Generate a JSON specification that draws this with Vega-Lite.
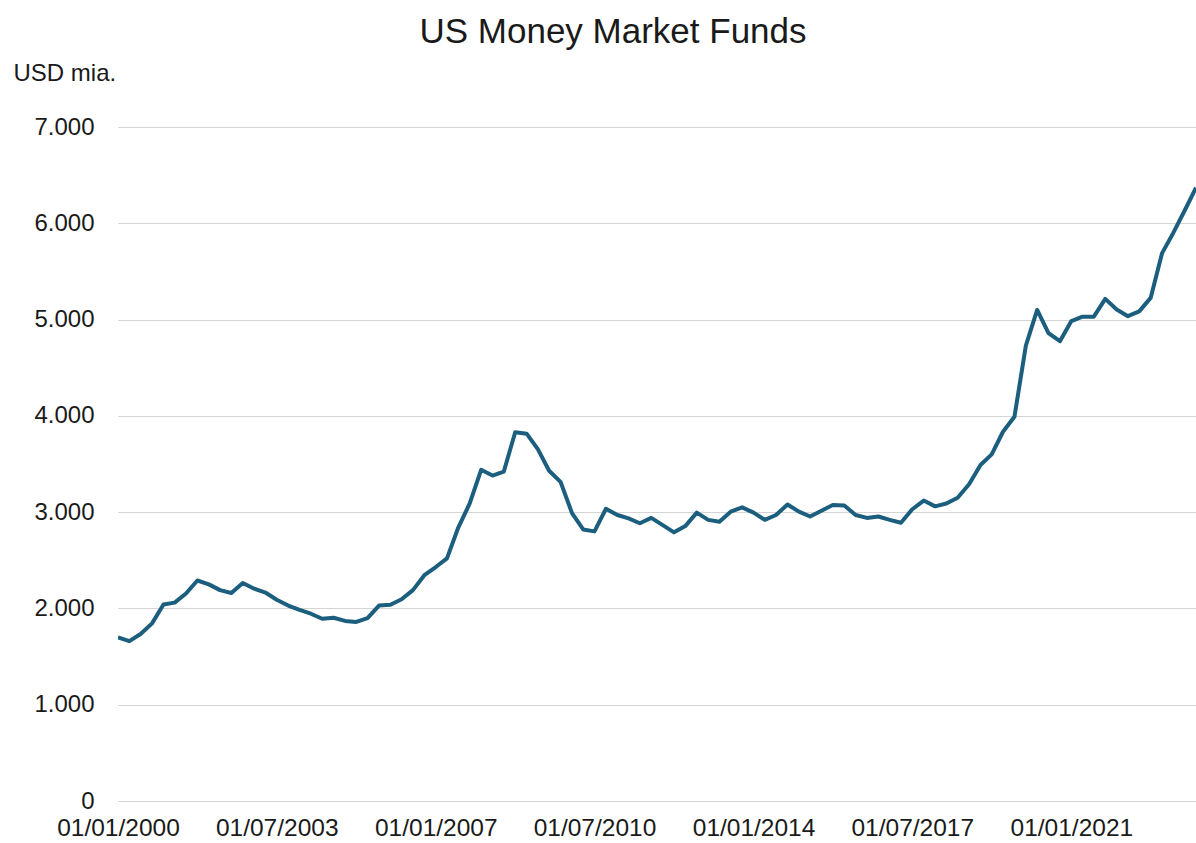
{
  "$schema": "https://vega.github.io/schema/vega-lite/v6.json",
  "autosize": {"type": "none"},
  "width": 1078,
  "height": 674,
  "padding": {"left": 118, "top": 127, "right": 0, "bottom": 42},
  "background": "white",
  "title": {
    "text": "US Money Market Funds",
    "fontSize": 35,
    "font": "Liberation Sans",
    "fontWeight": "normal",
    "color": "#1a1a1a",
    "anchor": "middle",
    "dx": -44,
    "dy": -7
  },
  "data": {
    "values": [
      {"date": "2000-01-01", "value": 1700}, {"date": "2000-04-01", "value": 1660}, {"date": "2000-07-01", "value": 1735}, {"date": "2000-10-01", "value": 1845},
      {"date": "2001-01-01", "value": 2040}, {"date": "2001-04-01", "value": 2060}, {"date": "2001-07-01", "value": 2155}, {"date": "2001-10-01", "value": 2290},
      {"date": "2002-01-01", "value": 2250}, {"date": "2002-04-01", "value": 2190}, {"date": "2002-07-01", "value": 2160}, {"date": "2002-10-01", "value": 2265},
      {"date": "2003-01-01", "value": 2205}, {"date": "2003-04-01", "value": 2165}, {"date": "2003-07-01", "value": 2090}, {"date": "2003-10-01", "value": 2030},
      {"date": "2004-01-01", "value": 1985}, {"date": "2004-04-01", "value": 1945}, {"date": "2004-07-01", "value": 1893}, {"date": "2004-10-01", "value": 1903},
      {"date": "2005-01-01", "value": 1870}, {"date": "2005-04-01", "value": 1860}, {"date": "2005-07-01", "value": 1900}, {"date": "2005-10-01", "value": 2030},
      {"date": "2006-01-01", "value": 2038}, {"date": "2006-04-01", "value": 2095}, {"date": "2006-07-01", "value": 2190}, {"date": "2006-10-01", "value": 2345},
      {"date": "2007-01-01", "value": 2430}, {"date": "2007-04-01", "value": 2520}, {"date": "2007-07-01", "value": 2840}, {"date": "2007-10-01", "value": 3090},
      {"date": "2008-01-01", "value": 3440}, {"date": "2008-04-01", "value": 3380}, {"date": "2008-07-01", "value": 3420}, {"date": "2008-10-01", "value": 3830},
      {"date": "2009-01-01", "value": 3815}, {"date": "2009-04-01", "value": 3655}, {"date": "2009-07-01", "value": 3430}, {"date": "2009-10-01", "value": 3315},
      {"date": "2010-01-01", "value": 2990}, {"date": "2010-04-01", "value": 2820}, {"date": "2010-07-01", "value": 2800}, {"date": "2010-10-01", "value": 3035},
      {"date": "2011-01-01", "value": 2970}, {"date": "2011-04-01", "value": 2935}, {"date": "2011-07-01", "value": 2885}, {"date": "2011-10-01", "value": 2940},
      {"date": "2012-01-01", "value": 2865}, {"date": "2012-04-01", "value": 2790}, {"date": "2012-07-01", "value": 2855}, {"date": "2012-10-01", "value": 2995},
      {"date": "2013-01-01", "value": 2920}, {"date": "2013-04-01", "value": 2900}, {"date": "2013-07-01", "value": 3005}, {"date": "2013-10-01", "value": 3050},
      {"date": "2014-01-01", "value": 2995}, {"date": "2014-04-01", "value": 2920}, {"date": "2014-07-01", "value": 2970}, {"date": "2014-10-01", "value": 3080},
      {"date": "2015-01-01", "value": 3005}, {"date": "2015-04-01", "value": 2955}, {"date": "2015-07-01", "value": 3015}, {"date": "2015-10-01", "value": 3075},
      {"date": "2016-01-01", "value": 3070}, {"date": "2016-04-01", "value": 2970}, {"date": "2016-07-01", "value": 2940}, {"date": "2016-10-01", "value": 2955},
      {"date": "2017-01-01", "value": 2920}, {"date": "2017-04-01", "value": 2890}, {"date": "2017-07-01", "value": 3030}, {"date": "2017-10-01", "value": 3120},
      {"date": "2018-01-01", "value": 3060}, {"date": "2018-04-01", "value": 3090}, {"date": "2018-07-01", "value": 3150}, {"date": "2018-10-01", "value": 3290},
      {"date": "2019-01-01", "value": 3490}, {"date": "2019-04-01", "value": 3600}, {"date": "2019-07-01", "value": 3835}, {"date": "2019-10-01", "value": 3990},
      {"date": "2020-01-01", "value": 4730}, {"date": "2020-04-01", "value": 5100}, {"date": "2020-07-01", "value": 4860}, {"date": "2020-10-01", "value": 4775},
      {"date": "2021-01-01", "value": 4985}, {"date": "2021-04-01", "value": 5030}, {"date": "2021-07-01", "value": 5030}, {"date": "2021-10-01", "value": 5215},
      {"date": "2022-01-01", "value": 5105}, {"date": "2022-04-01", "value": 5035}, {"date": "2022-07-01", "value": 5085}, {"date": "2022-10-01", "value": 5225},
      {"date": "2023-01-01", "value": 5690}, {"date": "2023-04-01", "value": 5900}, {"date": "2023-07-01", "value": 6130}, {"date": "2023-10-01", "value": 6370}
    ]
  },
  "mark": {"type": "line", "color": "#1b5e7e", "strokeWidth": 4, "strokeJoin": "round", "clip": true},
  "encoding": {
    "x": {
      "field": "date",
      "type": "temporal",
      "scale": {
        "type": "utc",
        "nice": false,
        "domain": [{"year": 2000, "month": 1, "date": 1, "utc": true}, {"year": 2023, "month": 10, "date": 1, "utc": true}]
      },
      "axis": {
        "title": null,
        "values": [
          {"year": 2000, "month": 1, "date": 1, "utc": true},
          {"year": 2003, "month": 7, "date": 1, "utc": true},
          {"year": 2007, "month": 1, "date": 1, "utc": true},
          {"year": 2010, "month": 7, "date": 1, "utc": true},
          {"year": 2014, "month": 1, "date": 1, "utc": true},
          {"year": 2017, "month": 7, "date": 1, "utc": true},
          {"year": 2021, "month": 1, "date": 1, "utc": true}
        ],
        "labelExpr": "utcFormat(datum.value, '%d/%m/%Y')",
        "grid": false,
        "domain": false,
        "ticks": false,
        "labelFontSize": 24.5,
        "labelFont": "Liberation Sans",
        "labelColor": "#1a1a1a",
        "labelPadding": 15,
        "labelOverlap": false,
        "labelFlush": false
      }
    },
    "y": {
      "field": "value",
      "type": "quantitative",
      "scale": {"domain": [0, 7000], "nice": false},
      "axis": {
        "title": "USD mia.",
        "titleAngle": 0,
        "titleAlign": "left",
        "titleBaseline": "alphabetic",
        "titleX": -105,
        "titleY": -47,
        "titleFontSize": 24,
        "titleFont": "Liberation Sans",
        "titleFontWeight": "normal",
        "titleColor": "#1a1a1a",
        "values": [0, 1000, 2000, 3000, 4000, 5000, 6000, 7000],
        "labelExpr": "replace(format(datum.value, ','), ',', '.')",
        "labelFontSize": 24,
        "labelFont": "Liberation Sans",
        "labelColor": "#1a1a1a",
        "labelPadding": 24,
        "ticks": false,
        "domain": false,
        "grid": true,
        "gridColor": "#d4d4d4",
        "gridWidth": 1
      }
    }
  },
  "config": {"view": {"stroke": null}}
}
